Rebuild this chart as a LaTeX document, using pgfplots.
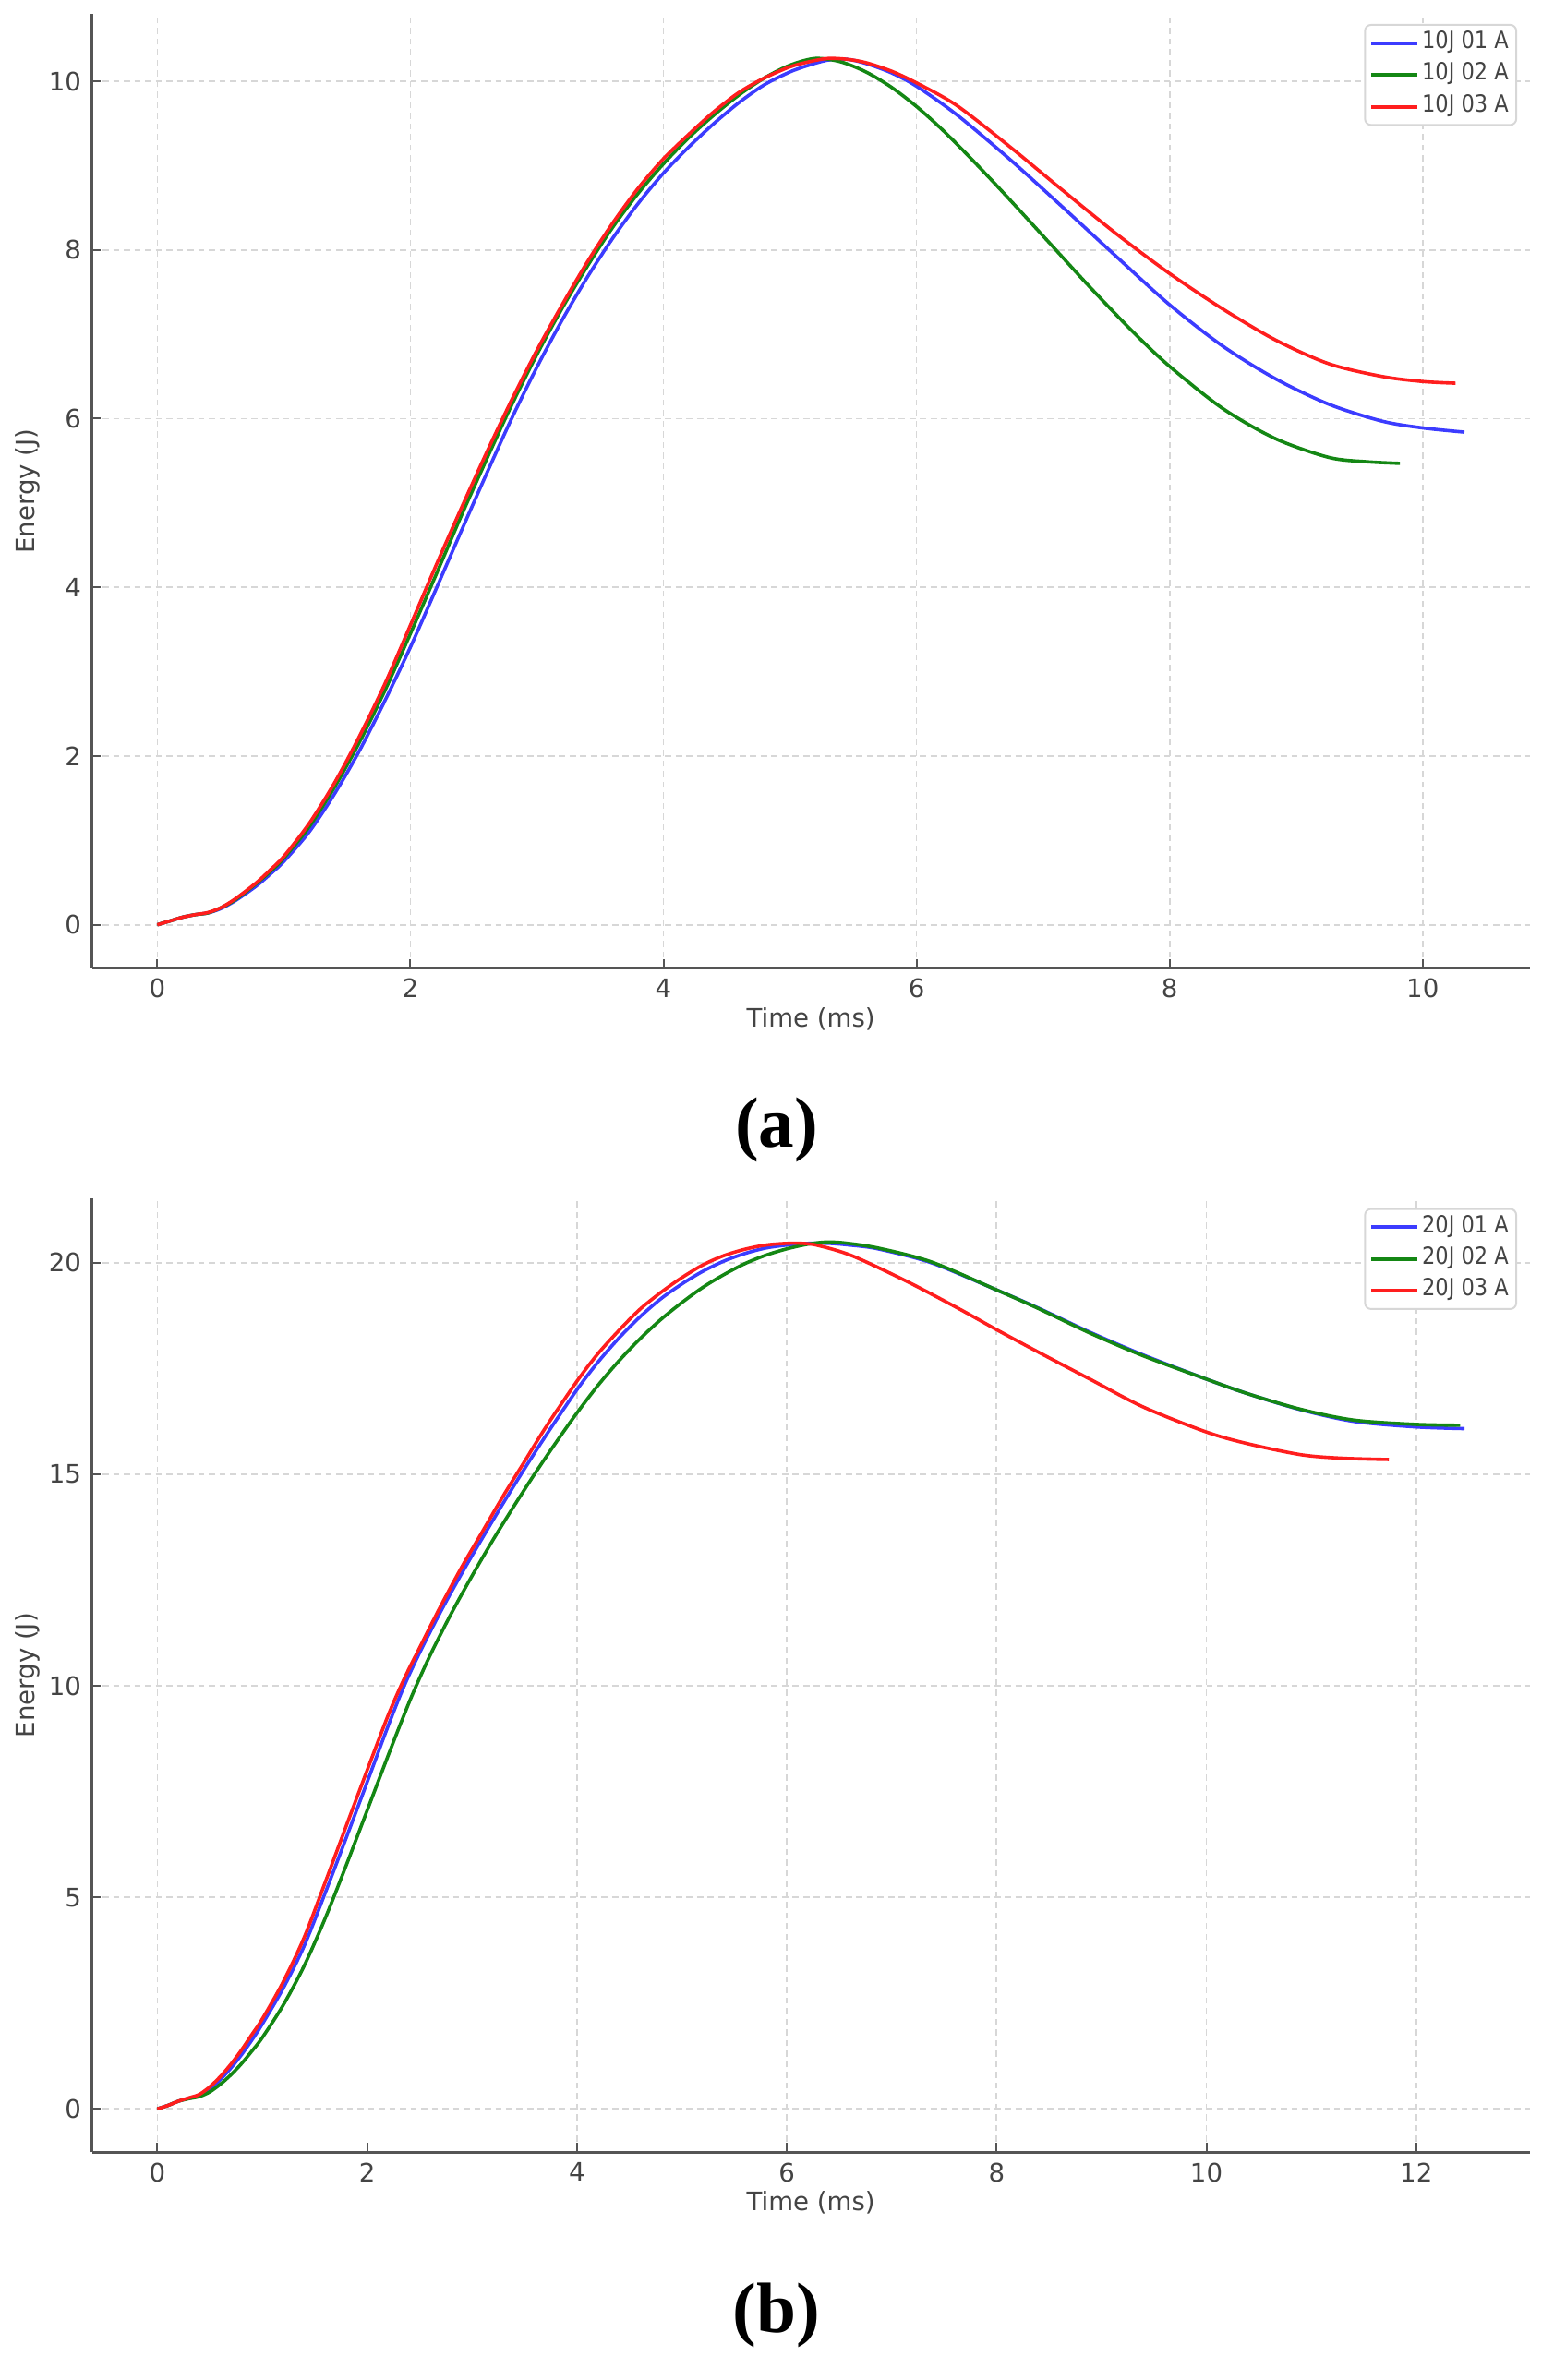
\documentclass[border=0pt]{standalone}
\usepackage{fontspec}
\setmainfont{DejaVu Sans}
\newfontfamily\legfont{DejaVu Sans}[FakeStretch=0.88]
\newfontfamily\capfont{Liberation Serif}
\usepackage{pgfplots}
\pgfplotsset{compat=1.18}

\definecolor{textgray}{RGB}{68,68,68}
\definecolor{spinegray}{RGB}{85,85,85}
\definecolor{gridgray}{RGB}{215,215,215}
\definecolor{legendgray}{RGB}{215,215,215}
\definecolor{cblue}{RGB}{60,60,255}
\definecolor{cgreen}{RGB}{20,135,20}
\definecolor{cred}{RGB}{255,30,30}

\pgfplotsset{
  panel/.style={
    scale only axis, width=474pt, height=314.5pt,
    axis lines*=left,
    axis line style={-, draw=spinegray, line width=0.8pt},
    tick align=inside, major tick length=3pt,
    tick style={spinegray, line width=0.6pt},
    grid=major,
    major grid style={gridgray, dash pattern=on 2pt off 1.5pt, line width=0.5pt},
    /pgf/number format/assume math mode=true,
    ticklabel style={font=\fontsize{8.4}{10}\selectfont, text=textgray},
    label style={font=\fontsize{8.4}{10}\selectfont, text=textgray},
    xlabel style={at={(axis description cs:0.5,-0.0531)}, anchor=center},
    ylabel style={at={(axis description cs:-0.0449,0.5)}, anchor=center},
    xlabel={Time (ms)}, ylabel={Energy (J)},
    legend style={at={(rel axis cs:0.9912,0.9898)}, anchor=north east,
      draw=legendgray, line width=0.6pt, rounded corners=2pt, fill=white,
      inner xsep=1.5pt, inner ysep=0.75pt, row sep=0pt,
      font=\legfont\fontsize{7.8}{9}\selectfont, text=textgray,
      nodes={inner xsep=1pt, inner ysep=1.5pt, text height=5.5pt, text depth=2pt}},
    legend cell align=left,
    legend image code/.code={\draw[#1, line width=1.3pt] (0pt,0pt) -- (15pt,0pt);},
    every axis plot/.append style={line width=1.1pt, smooth, tension=0.5},
  }
}

\begin{document}
\begin{tikzpicture}
\path[use as bounding box] (0pt,0pt) rectangle (512pt,784.7pt);

\begin{axis}[panel, at={(30.3pt,465.5pt)}, anchor=south west,
  xmin=-0.5165, xmax=10.8465, ymin=-0.514, ymax=10.794,
  xtick={0,2,4,6,8,10}, ytick={0,2,4,6,8,10}]
\addplot[cblue] coordinates {
(0,0) (0.1,0.045) (0.2,0.09) (0.3,0.12) (0.4,0.14) (0.5,0.19) (0.6,0.27) (0.7,0.37)
(0.8,0.48) (0.9,0.61) (1.0,0.75) (1.2,1.10) (1.4,1.55) (1.6,2.07) (1.8,2.66) (2.0,3.29)
(2.2,3.97) (2.4,4.66) (2.6,5.34) (2.8,6.00) (3.0,6.61) (3.2,7.17) (3.4,7.68) (3.6,8.14)
(3.8,8.55) (4.0,8.91) (4.2,9.22) (4.4,9.50) (4.6,9.75) (4.8,9.96) (5.0,10.11) (5.15,10.19)
(5.3,10.25) (5.45,10.26) (5.6,10.21) (5.8,10.10) (6.0,9.94) (6.32,9.60) (6.74,9.07)
(7.16,8.50) (7.58,7.92) (8.0,7.35) (8.42,6.86) (8.84,6.47) (9.26,6.17) (9.68,5.97)
(10.0,5.89) (10.33,5.84)};
\addlegendentry{10J 01 A}
\addplot[cgreen] coordinates {
(0,0) (0.1,0.045) (0.2,0.09) (0.3,0.12) (0.4,0.14) (0.5,0.20) (0.6,0.28) (0.7,0.39)
(0.8,0.51) (0.9,0.64) (1.0,0.79) (1.2,1.16) (1.4,1.63) (1.6,2.17) (1.8,2.78) (2.0,3.45)
(2.2,4.14) (2.4,4.84) (2.6,5.51) (2.8,6.16) (3.0,6.76) (3.2,7.31) (3.4,7.81) (3.6,8.27)
(3.8,8.67) (4.0,9.02) (4.2,9.33) (4.4,9.60) (4.6,9.84) (4.8,10.04) (5.0,10.19) (5.2,10.27)
(5.4,10.23) (5.6,10.11) (5.8,9.93) (6.0,9.70) (6.2,9.43) (6.4,9.13) (6.66,8.72)
(7.04,8.10) (7.37,7.56) (7.71,7.03) (8.0,6.62) (8.42,6.12) (8.84,5.76) (9.26,5.54)
(9.55,5.49) (9.82,5.47)};
\addlegendentry{10J 02 A}
\addplot[cred] coordinates {
(0,0) (0.1,0.045) (0.2,0.09) (0.3,0.12) (0.4,0.145) (0.5,0.20) (0.6,0.29) (0.7,0.40)
(0.8,0.52) (0.9,0.66) (1.0,0.81) (1.2,1.20) (1.4,1.68) (1.6,2.24) (1.8,2.86) (2.0,3.55)
(2.2,4.25) (2.4,4.93) (2.6,5.59) (2.8,6.22) (3.0,6.81) (3.2,7.35) (3.4,7.86) (3.6,8.32)
(3.8,8.73) (4.0,9.08) (4.2,9.37) (4.4,9.64) (4.6,9.87) (4.8,10.04) (5.0,10.17) (5.15,10.23)
(5.3,10.27) (5.45,10.26) (5.6,10.22) (5.8,10.12) (6.0,9.98) (6.32,9.71) (6.74,9.22)
(7.16,8.70) (7.58,8.19) (8.0,7.72) (8.42,7.30) (8.84,6.93) (9.26,6.65) (9.68,6.50)
(10.0,6.44) (10.26,6.42)};
\addlegendentry{10J 03 A}
\end{axis}

\begin{axis}[panel, at={(30.3pt,75.1pt)}, anchor=south west,
  xmin=-0.623, xmax=13.083, ymin=-1.025, ymax=21.525,
  xtick={0,2,4,6,8,10,12}, ytick={0,5,10,15,20}]
\addplot[cblue] coordinates {
(0,0) (0.1,0.08) (0.2,0.18) (0.3,0.25) (0.4,0.31) (0.5,0.47) (0.6,0.69) (0.7,0.96)
(0.8,1.27) (0.9,1.62) (1.0,2.0) (1.2,2.85) (1.4,3.85) (1.6,5.1) (1.8,6.4) (2.0,7.72)
(2.2,9.05) (2.35,9.98) (2.5,10.78) (2.7,11.75) (2.9,12.65) (3.1,13.5) (3.3,14.33)
(3.5,15.13) (3.7,15.9) (4.0,17.0) (4.2,17.65) (4.4,18.22) (4.6,18.72) (4.8,19.15)
(5.0,19.5) (5.2,19.8) (5.4,20.04) (5.6,20.22) (5.8,20.35) (6.0,20.42) (6.2,20.46)
(6.4,20.46) (6.6,20.42) (6.87,20.33) (7.38,20.0) (8.0,19.36) (8.39,18.94) (8.89,18.36)
(9.40,17.82) (10.0,17.25) (10.40,16.9) (10.91,16.52) (11.41,16.25) (12.0,16.12) (12.46,16.08)};
\addlegendentry{20J 01 A}
\addplot[cgreen] coordinates {
(0,0) (0.1,0.08) (0.2,0.18) (0.3,0.24) (0.4,0.29) (0.5,0.40) (0.6,0.58) (0.7,0.80)
(0.8,1.06) (0.9,1.36) (1.0,1.68) (1.2,2.45) (1.4,3.38) (1.6,4.5) (1.8,5.75) (2.0,7.05)
(2.2,8.35) (2.35,9.3) (2.45,9.9) (2.6,10.72) (2.8,11.7) (3.0,12.6) (3.2,13.45) (3.4,14.25)
(3.6,15.02) (3.8,15.75) (4.0,16.45) (4.2,17.1) (4.4,17.68) (4.6,18.2) (4.8,18.66)
(5.0,19.06) (5.2,19.42) (5.4,19.72) (5.6,19.98) (5.8,20.18) (6.0,20.33) (6.2,20.44)
(6.37,20.49) (6.55,20.47) (6.87,20.35) (7.38,20.02) (8.0,19.36) (8.39,18.93) (8.89,18.34)
(9.40,17.8) (10.0,17.25) (10.40,16.9) (10.91,16.53) (11.41,16.28) (12.0,16.18) (12.42,16.16)};
\addlegendentry{20J 02 A}
\addplot[cred] coordinates {
(0,0) (0.1,0.08) (0.2,0.18) (0.3,0.26) (0.4,0.34) (0.5,0.52) (0.6,0.76) (0.7,1.05)
(0.8,1.38) (0.9,1.75) (1.0,2.12) (1.2,3.0) (1.4,4.05) (1.6,5.35) (1.8,6.68) (2.0,8.0)
(2.2,9.3) (2.35,10.15) (2.5,10.9) (2.7,11.88) (2.9,12.8) (3.1,13.65) (3.3,14.5)
(3.5,15.3) (3.7,16.1) (4.0,17.2) (4.2,17.85) (4.4,18.4) (4.6,18.9) (4.8,19.3)
(5.0,19.65) (5.2,19.95) (5.4,20.17) (5.6,20.32) (5.8,20.42) (6.0,20.46) (6.15,20.46)
(6.3,20.41) (6.62,20.17) (7.13,19.58) (7.63,18.93) (8.0,18.42) (8.39,17.9) (8.89,17.25)
(9.40,16.59) (10.0,16.0) (10.40,15.72) (10.91,15.46) (11.3,15.38) (11.74,15.35)};
\addlegendentry{20J 03 A}
\end{axis}

\node[font=\capfont\bfseries\fontsize{23.5}{28}\selectfont] at (256pt,412.3pt) {(a)};
\node[font=\capfont\bfseries\fontsize{23.5}{28}\selectfont] at (256pt,21.3pt) {(b)};
\end{tikzpicture}
\end{document}
